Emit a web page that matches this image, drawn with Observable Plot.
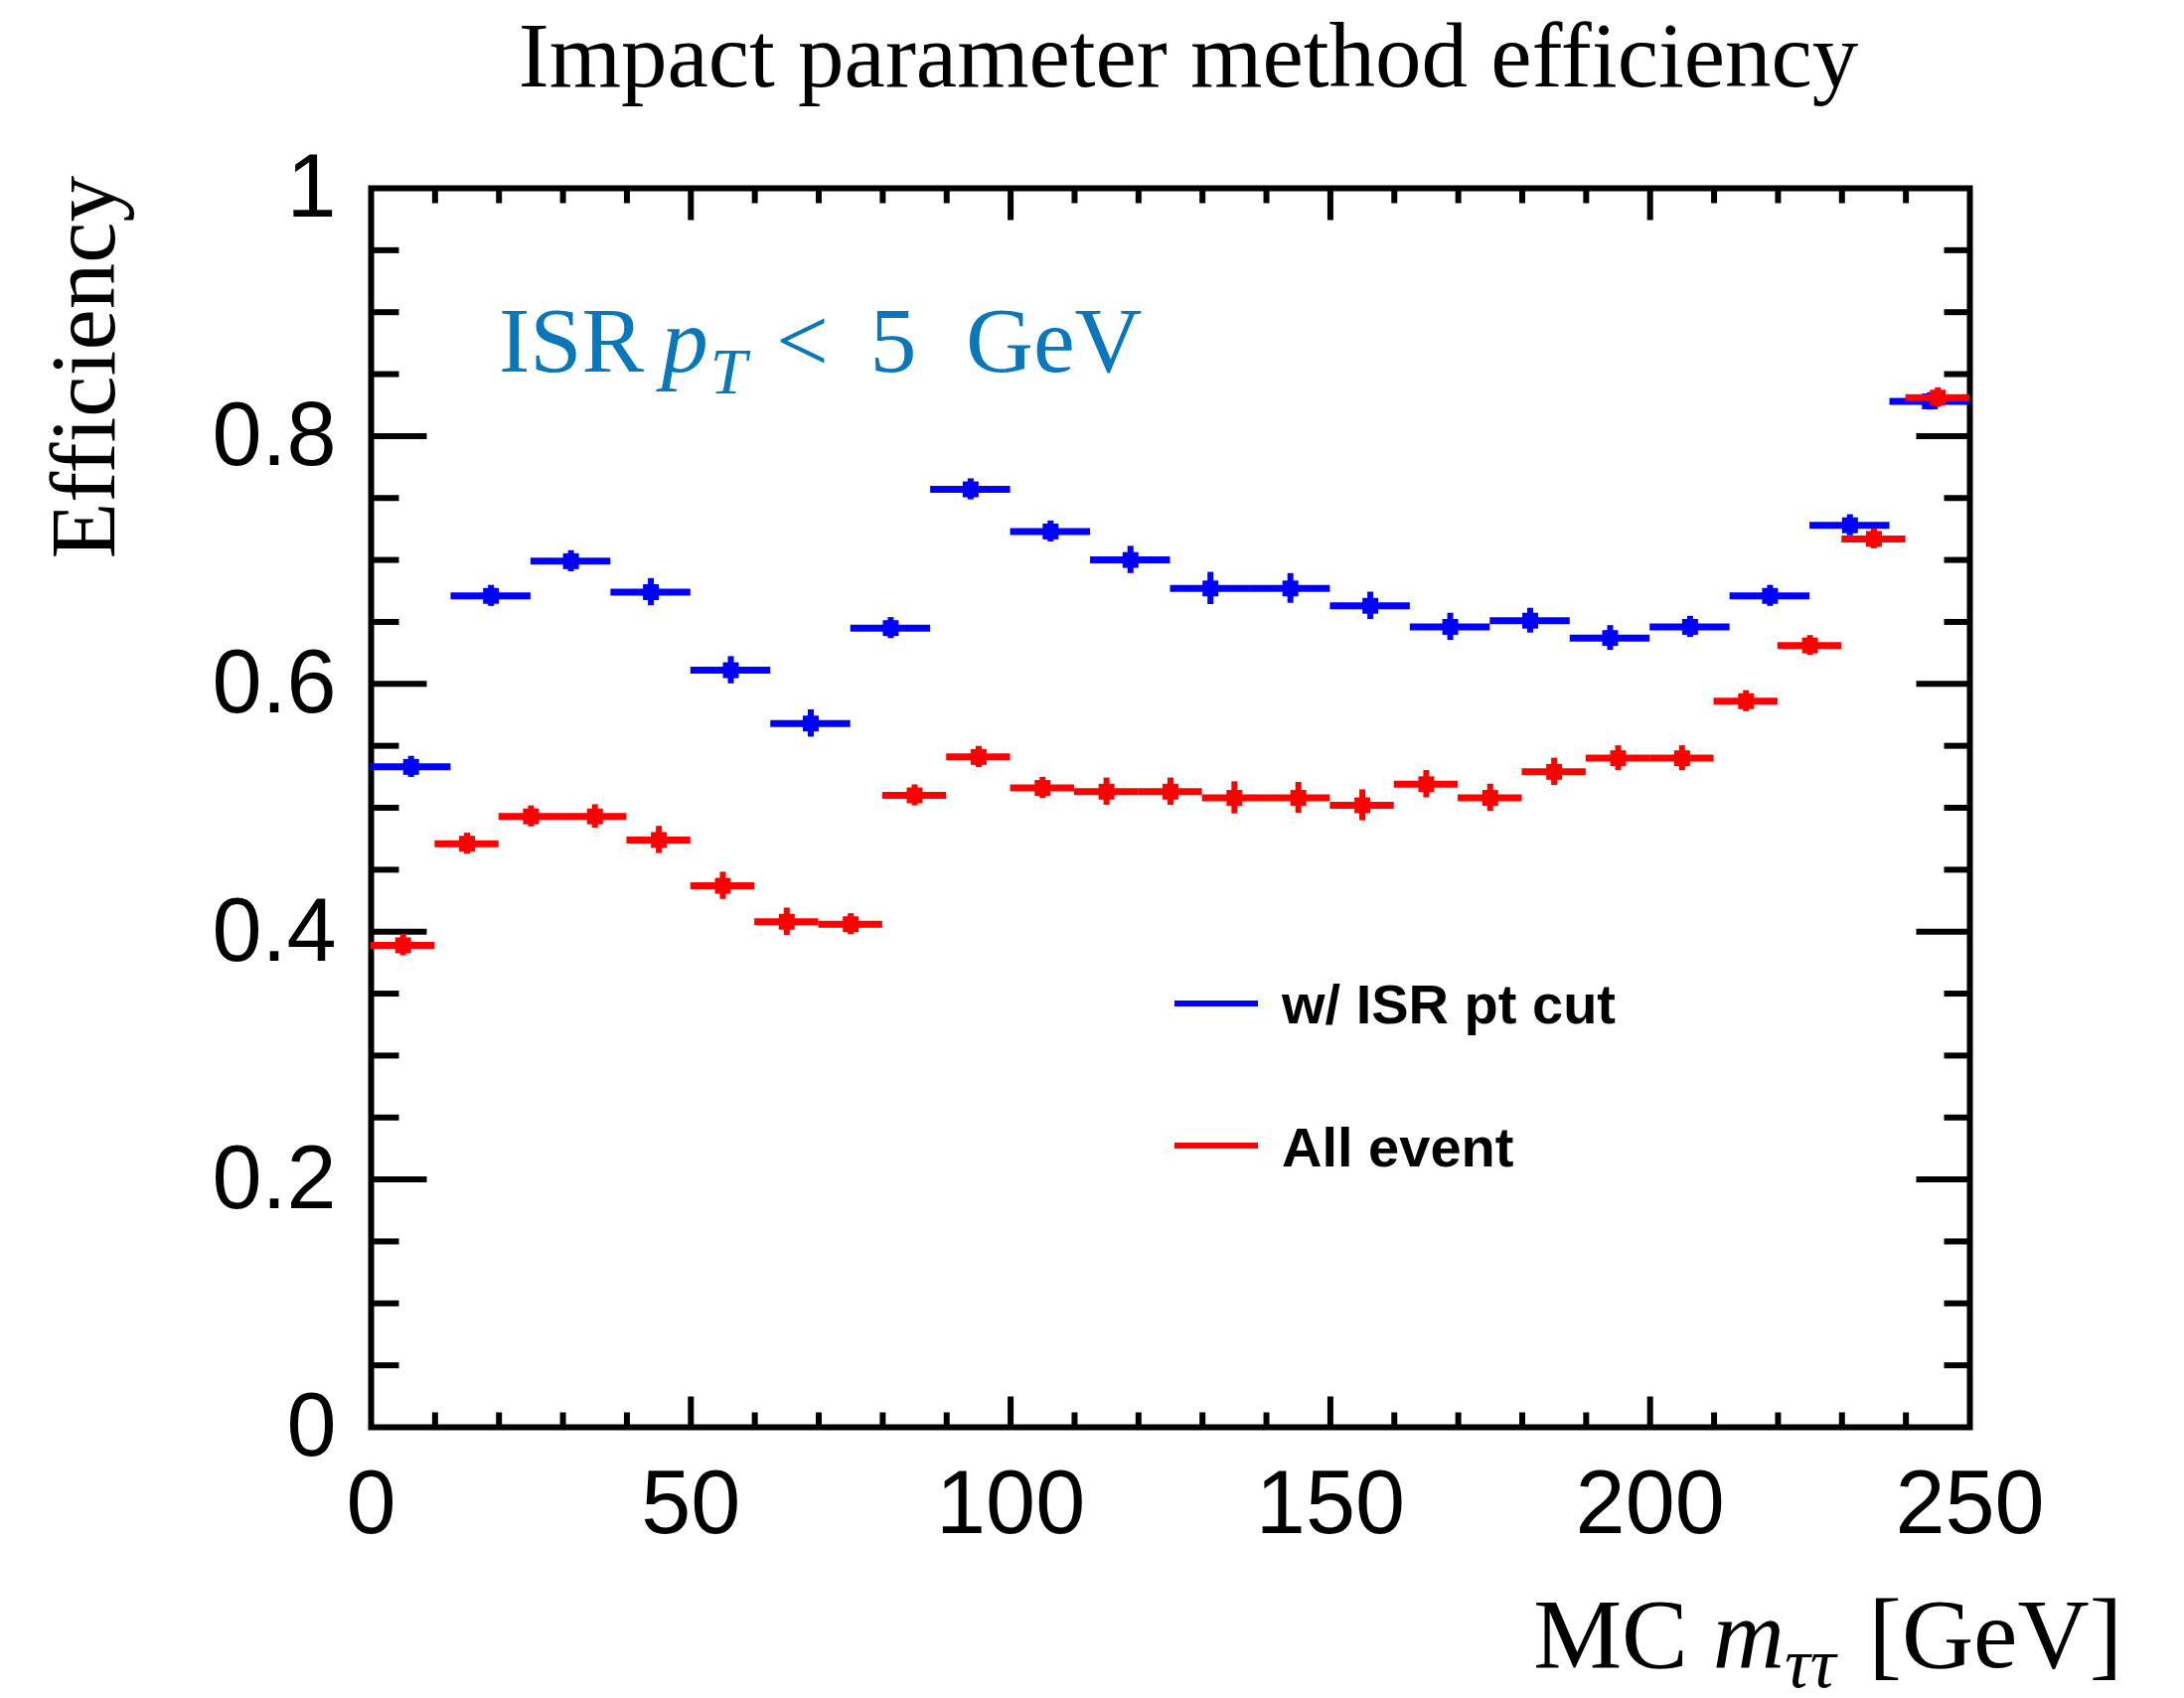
<!DOCTYPE html>
<html>
<head>
<meta charset="utf-8">
<script src="https://cdn.jsdelivr.net/npm/d3@7"></script>
<script src="https://cdn.jsdelivr.net/npm/@observablehq/plot@0.6"></script>
<style>
  html, body { margin: 0; padding: 0; background: #ffffff; }
  #chart svg { display: block; }
</style>
</head>
<body>
<div id="chart"></div>
<script>
// ---------------- data ----------------
const blueEdges = [0, 12.5, 25, 37.5, 50, 62.5, 75, 87.5, 100, 112.5, 125, 137.5, 150, 162.5, 175, 187.5, 200, 212.5, 225, 237.5, 250];
const blueValues = [0.533, 0.671, 0.699, 0.674, 0.611, 0.568, 0.645, 0.757, 0.723, 0.700, 0.677, 0.677, 0.663, 0.646, 0.651, 0.637, 0.646, 0.671, 0.728, 0.828];
const blueErrors = [0.0085, 0.0085, 0.0085, 0.011, 0.011, 0.011, 0.0085, 0.0085, 0.0085, 0.011, 0.013, 0.012, 0.011, 0.011, 0.010, 0.010, 0.0085, 0.0085, 0.0085, 0.007];

const redEdges = [0, 10, 20, 30, 40, 50, 60, 70, 80, 90, 100, 110, 120, 130, 140, 150, 160, 170, 180, 190, 200, 210, 220, 230, 240, 250];
const redValues = [0.389, 0.471, 0.493, 0.493, 0.474, 0.437, 0.408, 0.406, 0.510, 0.541, 0.516, 0.513, 0.513, 0.508, 0.508, 0.502, 0.519, 0.508, 0.529, 0.540, 0.540, 0.586, 0.631, 0.717, 0.831];
const redErrors = [0.0085, 0.0085, 0.0085, 0.0095, 0.011, 0.011, 0.011, 0.0085, 0.0085, 0.0085, 0.0085, 0.011, 0.011, 0.013, 0.0125, 0.0125, 0.011, 0.011, 0.011, 0.010, 0.010, 0.0085, 0.008, 0.008, 0.008];

const xMajorTicks = [0, 50, 100, 150, 200, 250];
const xTickLabels = ["0", "50", "100", "150", "200", "250"];
const yMajorTicks = [0, 0.2, 0.4, 0.6, 0.8, 1];
const yTickLabels = ["0", "0.2", "0.4", "0.6", "0.8", "1"];

const seriesNames = ["w/ ISR pt cut", "All event"];
const seriesColors = ["#0000ff", "#ff0000"];

const titleText = "Impact parameter method efficiency";
const yTitle = "Efficiency";

// ---------------- build tables ----------------
const blue = blueValues.map((v, i) => ({lo: blueEdges[i], hi: blueEdges[i + 1], v, e: blueErrors[i]}));
const red = redValues.map((v, i) => ({lo: redEdges[i], hi: redEdges[i + 1], v, e: redErrors[i]}));

const xMinorTicks = d3.range(0, 251, 10).filter(d => d % 50 !== 0);
const yMinorTicks = d3.range(1, 20).map(i => i / 20).filter(d => Math.round(d * 20) % 4 !== 0);
const yMajorInner = [0.2, 0.4, 0.6, 0.8];
const xMajorInner = [50, 100, 150, 200];

const W = 2198, H = 1709;
const M = {left: 373, right: 216, top: 189, bottom: 273};
const tickStroke = {stroke: "black", strokeWidth: 6, r: 0, anchor: "start", strokeLinecap: "butt"};

function binMarks(data, color) {
  return [
    Plot.ruleY(data, {x1: "lo", x2: "hi", y: "v", stroke: color, strokeWidth: 7}),
    Plot.ruleX(data, {x: d => (d.lo + d.hi) / 2, y1: d => d.v - d.e, y2: d => d.v + d.e, stroke: color, strokeWidth: 6}),
    Plot.dot(data, {x: d => (d.lo + d.hi) / 2, y: "v", symbol: "square", r: 9, fill: color, stroke: "none"})
  ];
}

const chart = Plot.plot({
  width: W,
  height: H,
  marginLeft: M.left,
  marginRight: M.right,
  marginTop: M.top,
  marginBottom: M.bottom,
  style: {fontFamily: "'Liberation Sans', Arial, sans-serif", background: "#ffffff", overflow: "visible"},
  x: {domain: [0, 250]},
  y: {domain: [0, 1]},
  marks: [
    // inward ticks, bottom & top
    Plot.vector(xMinorTicks, {x: d => d, y: () => 0, length: 15, rotate: 0, ...tickStroke}),
    Plot.vector(xMajorInner, {x: d => d, y: () => 0, length: 31, rotate: 0, ...tickStroke}),
    Plot.vector(xMinorTicks, {x: d => d, y: () => 1, length: 15, rotate: 180, ...tickStroke}),
    Plot.vector(xMajorInner, {x: d => d, y: () => 1, length: 32, rotate: 180, ...tickStroke}),
    // inward ticks, left & right
    Plot.vector(yMinorTicks, {x: () => 0, y: d => d, length: 28, rotate: 90, ...tickStroke}),
    Plot.vector(yMajorInner, {x: () => 0, y: d => d, length: 56, rotate: 90, ...tickStroke}),
    Plot.vector(yMinorTicks, {x: () => 250, y: d => d, length: 26, rotate: 270, ...tickStroke}),
    Plot.vector(yMajorInner, {x: () => 250, y: d => d, length: 54, rotate: 270, ...tickStroke}),
    Plot.frame({stroke: "black", strokeWidth: 6}),
    Plot.axisX({ticks: xMajorTicks, tickSize: 0, tickPadding: 43, fontSize: 90, label: null,
      tickFormat: d => xTickLabels[xMajorTicks.indexOf(d)]}),
    Plot.axisY({ticks: yMajorTicks, tickSize: 0, tickPadding: 35, fontSize: 90, label: null,
      tickFormat: d => yTickLabels[yMajorTicks.indexOf(d)]}),
    ...binMarks(blue, seriesColors[0]),
    ...binMarks(red, seriesColors[1])
  ]
});

document.getElementById("chart").appendChild(chart);

// ---------------- annotations ----------------
const svg = d3.select(chart);
const serif = "'Liberation Serif', 'Times New Roman', serif";
const sans = "'Liberation Sans', Arial, sans-serif";

// title
svg.append("text")
  .attr("x", 1196).attr("y", 87)
  .attr("text-anchor", "middle")
  .attr("font-family", serif).attr("font-size", 93).attr("fill", "black")
  .text(titleText);

// y axis title
svg.append("text")
  .attr("transform", "translate(115,177) rotate(-90)")
  .attr("text-anchor", "end")
  .attr("font-family", serif).attr("font-size", 93).attr("fill", "black")
  .text(yTitle);

// x axis title: MC m_{ττ} [GeV]
const xt = svg.append("text")
  .attr("x", 2136).attr("y", 1678)
  .attr("text-anchor", "end")
  .attr("font-family", serif).attr("font-size", 100).attr("fill", "black");
xt.append("tspan").text("MC ");
xt.append("tspan").attr("font-style", "italic").text("m");
xt.append("tspan").attr("font-style", "italic").attr("font-size", 72).attr("dy", 20).text("ττ");
xt.append("tspan").attr("dy", -20).attr("dx", 8).text(" [GeV]");

// ISR p_T < 5 GeV
const isr = svg.append("text")
  .attr("x", 502).attr("y", 374)
  .attr("text-anchor", "start")
  .attr("font-family", serif).attr("font-size", 94).attr("fill", "#0a77ba");
isr.append("tspan").text("ISR ");
isr.append("tspan").attr("font-style", "italic").attr("dx", -6).text("p");
isr.append("tspan").attr("font-style", "italic").attr("font-size", 66).attr("dy", 22).attr("dx", 2).text("T");
isr.append("tspan").attr("dy", -22).attr("dx", 6).text(" <");
isr.append("tspan").attr("dx", 18).text(" 5");
isr.append("tspan").attr("dx", 26).text(" GeV");

// legend
const legendRows = [
  {name: seriesNames[0], color: seriesColors[0], ly: 1010, ty: 1030},
  {name: seriesNames[1], color: seriesColors[1], ly: 1153, ty: 1174}
];
legendRows.forEach(r => {
  svg.append("line")
    .attr("x1", 1182).attr("x2", 1266).attr("y1", r.ly).attr("y2", r.ly)
    .attr("stroke", r.color).attr("stroke-width", 6);
  svg.append("text")
    .attr("x", 1290).attr("y", r.ty)
    .attr("text-anchor", "start")
    .attr("font-family", sans).attr("font-weight", "bold").attr("font-size", 56).attr("fill", "black")
    .text(r.name);
});
</script>
</body>
</html>
